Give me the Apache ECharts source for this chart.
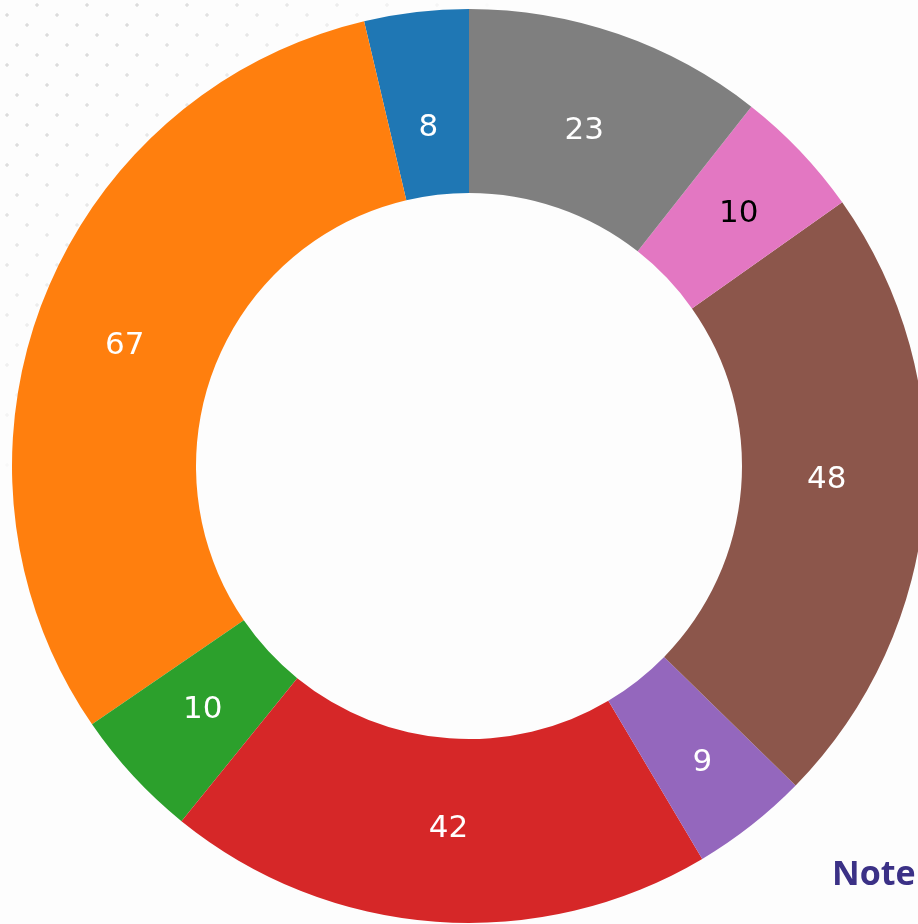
<!DOCTYPE html>
<html>
<head>
<meta charset="utf-8">
<script src="https://cdn.jsdelivr.net/npm/echarts@6/dist/echarts.min.js"></script>
<style>
    html, body { margin: 0; padding: 0; background: #fdfdfd; }
    #wrap { position: relative; width: 918px; height: 924px; overflow: hidden; }
    #dots {
        position: absolute; left: 0; top: 0; width: 560px; height: 480px;
        background-image:
            radial-gradient(circle, #dcdcdc 1.4px, transparent 2px),
            radial-gradient(circle, #dcdcdc 1.4px, transparent 2px),
            radial-gradient(circle, #dcdcdc 1.4px, transparent 2px),
            radial-gradient(circle, #dcdcdc 1.4px, transparent 2px),
            radial-gradient(circle, #dcdcdc 1.4px, transparent 2px);
        background-size: 50px 50px;
        background-position: 12px -20px, -18px -10px, 2px 0px, 22px 10px, -8px 20px;
        -webkit-mask-image: linear-gradient(135deg, #000 15%, transparent 50%);
        mask-image: linear-gradient(135deg, #000 15%, transparent 50%);
    }
    #chart { position: absolute; left: 0; top: 0; width: 918px; height: 924px; }
</style>
</head>
<body>
<div id="wrap">
    <div id="dots"></div>
    <div id="chart"></div>
</div>
<script>
    // 数据
    var categories = ['A', 'B', 'C', 'D', 'E', 'F', 'G', 'H'];
    var values = [8, 67, 10, 42, 9, 48, 10, 23];
    var colors = ['#1f77b4', '#ff7f0e', '#2ca02c', '#d62728', '#9467bd', '#8c564b', '#e377c2', '#7f7f7f'];
    var labelColors = ['#fff', '#fff', '#fff', '#fff', '#fff', '#fff', '#000', '#fff'];
    // 标签微调
    var labelOffsets = [[2, 27], [-1, 13], [4, -6], [6, -4], [6, 8], [-9, -15], [3, 1], [-5, 13]];

    var chart = echarts.init(document.getElementById('chart'), null, {renderer: 'canvas'});

    var pieData = categories.map(function (name, i) {
        return {
            name: name,
            value: values[i],
            itemStyle: {color: colors[i]},
            label: {color: labelColors[i], offset: labelOffsets[i]}
        };
    });

    var option = {
        backgroundColor: 'transparent',
        animation: false,
        series: [
            {
                type: 'pie',
                center: [469, 466],
                radius: [273, 457],
                startAngle: 90,
                clockwise: false,
                avoidLabelOverlap: false,
                silent: true,
                itemStyle: {borderWidth: 0},
                label: {
                    show: true,
                    position: 'inside',
                    formatter: '{c}',
                    fontFamily: 'DejaVu Sans',
                    fontSize: 31
                },
                labelLine: {show: false},
                data: pieData
            }
        ],
        graphic: [
            {
                type: 'text',
                left: 832,
                top: 858,
                style: {
                    text: 'Note',
                    fontFamily: 'Open Sans',
                    fontWeight: 'bold',
                    fontSize: 34,
                    fill: '#3b3186'
                }
            }
        ]
    };
    chart.setOption(option);
</script>
</body>
</html>
